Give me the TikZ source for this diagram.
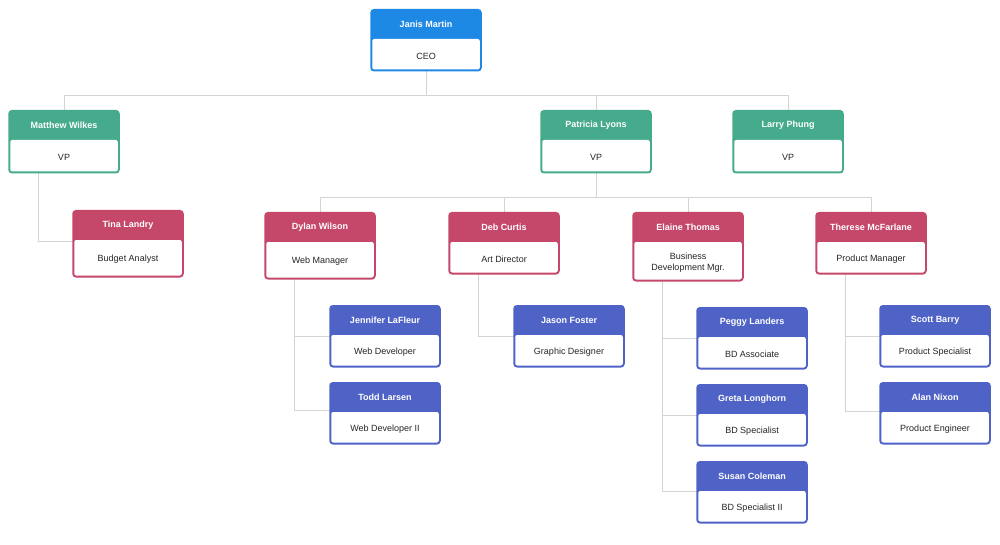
\documentclass[tikz,border=0pt]{standalone}
\usepackage{fontspec}
\setmainfont{Liberation Sans}
\usetikzlibrary{calc}
\definecolor{ceoblue}{HTML}{1E88E5}
\definecolor{vpgreen}{HTML}{45AB8C}
\definecolor{mgrred}{HTML}{C5476A}
\definecolor{staffblue}{HTML}{4F63C6}
\definecolor{linkgray}{HTML}{D4D4D4}
% one org chart card: id, centre x, top y, height, colour, name, title
\newcommand{\orgcard}[7]{%
  \node[card, draw=#5, fill=#5, minimum height=#4pt] (#1) at (#2,#3) {};
  \fill[white, rounded corners=2pt] ([xshift=2pt,yshift=-30pt]#1.north west) rectangle ([xshift=-2pt,yshift=2pt]#1.south east);
  \node[head] at ([yshift=-15pt]#1.north) {#6};
  \node[role] at ([yshift={(#4-30)/2*1pt}]#1.south) {#7};
}
\tikzset{
  card/.style = {rectangle, rounded corners=3pt, line width=1.5pt, minimum width=110pt, anchor=north, inner sep=0pt},
  head/.style = {text=white, font=\fontsize{9}{10}\selectfont\bfseries},
  role/.style = {text=black!85, font=\fontsize{9}{11}\selectfont, align=center},
  link/.style = {draw=linkgray, line width=0.8pt}
}
\begin{document}
\begin{tikzpicture}[x=1pt, y=-1pt]
  \useasboundingbox (0,0) rectangle (1000,545);
  % connectors
  \draw[link] (426,70) -- (426,95) -- (64,95) -- (64,110);
  \draw[link] (426,95) -- (788,95) -- (788,110);
  \draw[link] (596,95) -- (596,110);
  \draw[link] (38,172) -- (38,241) -- (73,241);
  \draw[link] (596,172) -- (596,197) -- (320,197) -- (320,212);
  \draw[link] (596,197) -- (871,197) -- (871,212);
  \draw[link] (504,197) -- (504,212);
  \draw[link] (688,197) -- (688,212);
  \draw[link] (294,278) -- (294,410) -- (330,410);
  \draw[link] (294,336) -- (330,336);
  \draw[link] (478,273) -- (478,336) -- (514,336);
  \draw[link] (662,280) -- (662,491) -- (697,491);
  \draw[link] (662,338) -- (697,338);
  \draw[link] (662,415) -- (697,415);
  \draw[link] (845,273) -- (845,411) -- (880,411);
  \draw[link] (845,336) -- (880,336);
  % cards
  \orgcard{ceo}{426}{9}{61}{ceoblue}{Janis Martin}{CEO}
  \orgcard{wilkes}{64}{110}{62}{vpgreen}{Matthew Wilkes}{VP}
  \orgcard{lyons}{596}{110}{62}{vpgreen}{Patricia Lyons}{VP}
  \orgcard{phung}{788}{110}{62}{vpgreen}{Larry Phung}{VP}
  \orgcard{landry}{128}{210}{66}{mgrred}{Tina Landry}{Budget Analyst}
  \orgcard{wilson}{320}{212}{66}{mgrred}{Dylan Wilson}{Web Manager}
  \orgcard{curtis}{504}{212}{61}{mgrred}{Deb Curtis}{Art Director}
  \orgcard{thomas}{688}{212}{68}{mgrred}{Elaine Thomas}{Business\\Development Mgr.}
  \orgcard{mcfarlane}{871}{212}{61}{mgrred}{Therese McFarlane}{Product Manager}
  \orgcard{lafleur}{385}{305}{61}{staffblue}{Jennifer LaFleur}{Web Developer}
  \orgcard{larsen}{385}{382}{61}{staffblue}{Todd Larsen}{Web Developer II}
  \orgcard{foster}{569}{305}{61}{staffblue}{Jason Foster}{Graphic Designer}
  \orgcard{landers}{752}{307}{61}{staffblue}{Peggy Landers}{BD Associate}
  \orgcard{longhorn}{752}{384}{61}{staffblue}{Greta Longhorn}{BD Specialist}
  \orgcard{coleman}{752}{461}{61}{staffblue}{Susan Coleman}{BD Specialist II}
  \orgcard{barry}{935}{305}{61}{staffblue}{Scott Barry}{Product Specialist}
  \orgcard{nixon}{935}{382}{61}{staffblue}{Alan Nixon}{Product Engineer}
\end{tikzpicture}
\end{document}
